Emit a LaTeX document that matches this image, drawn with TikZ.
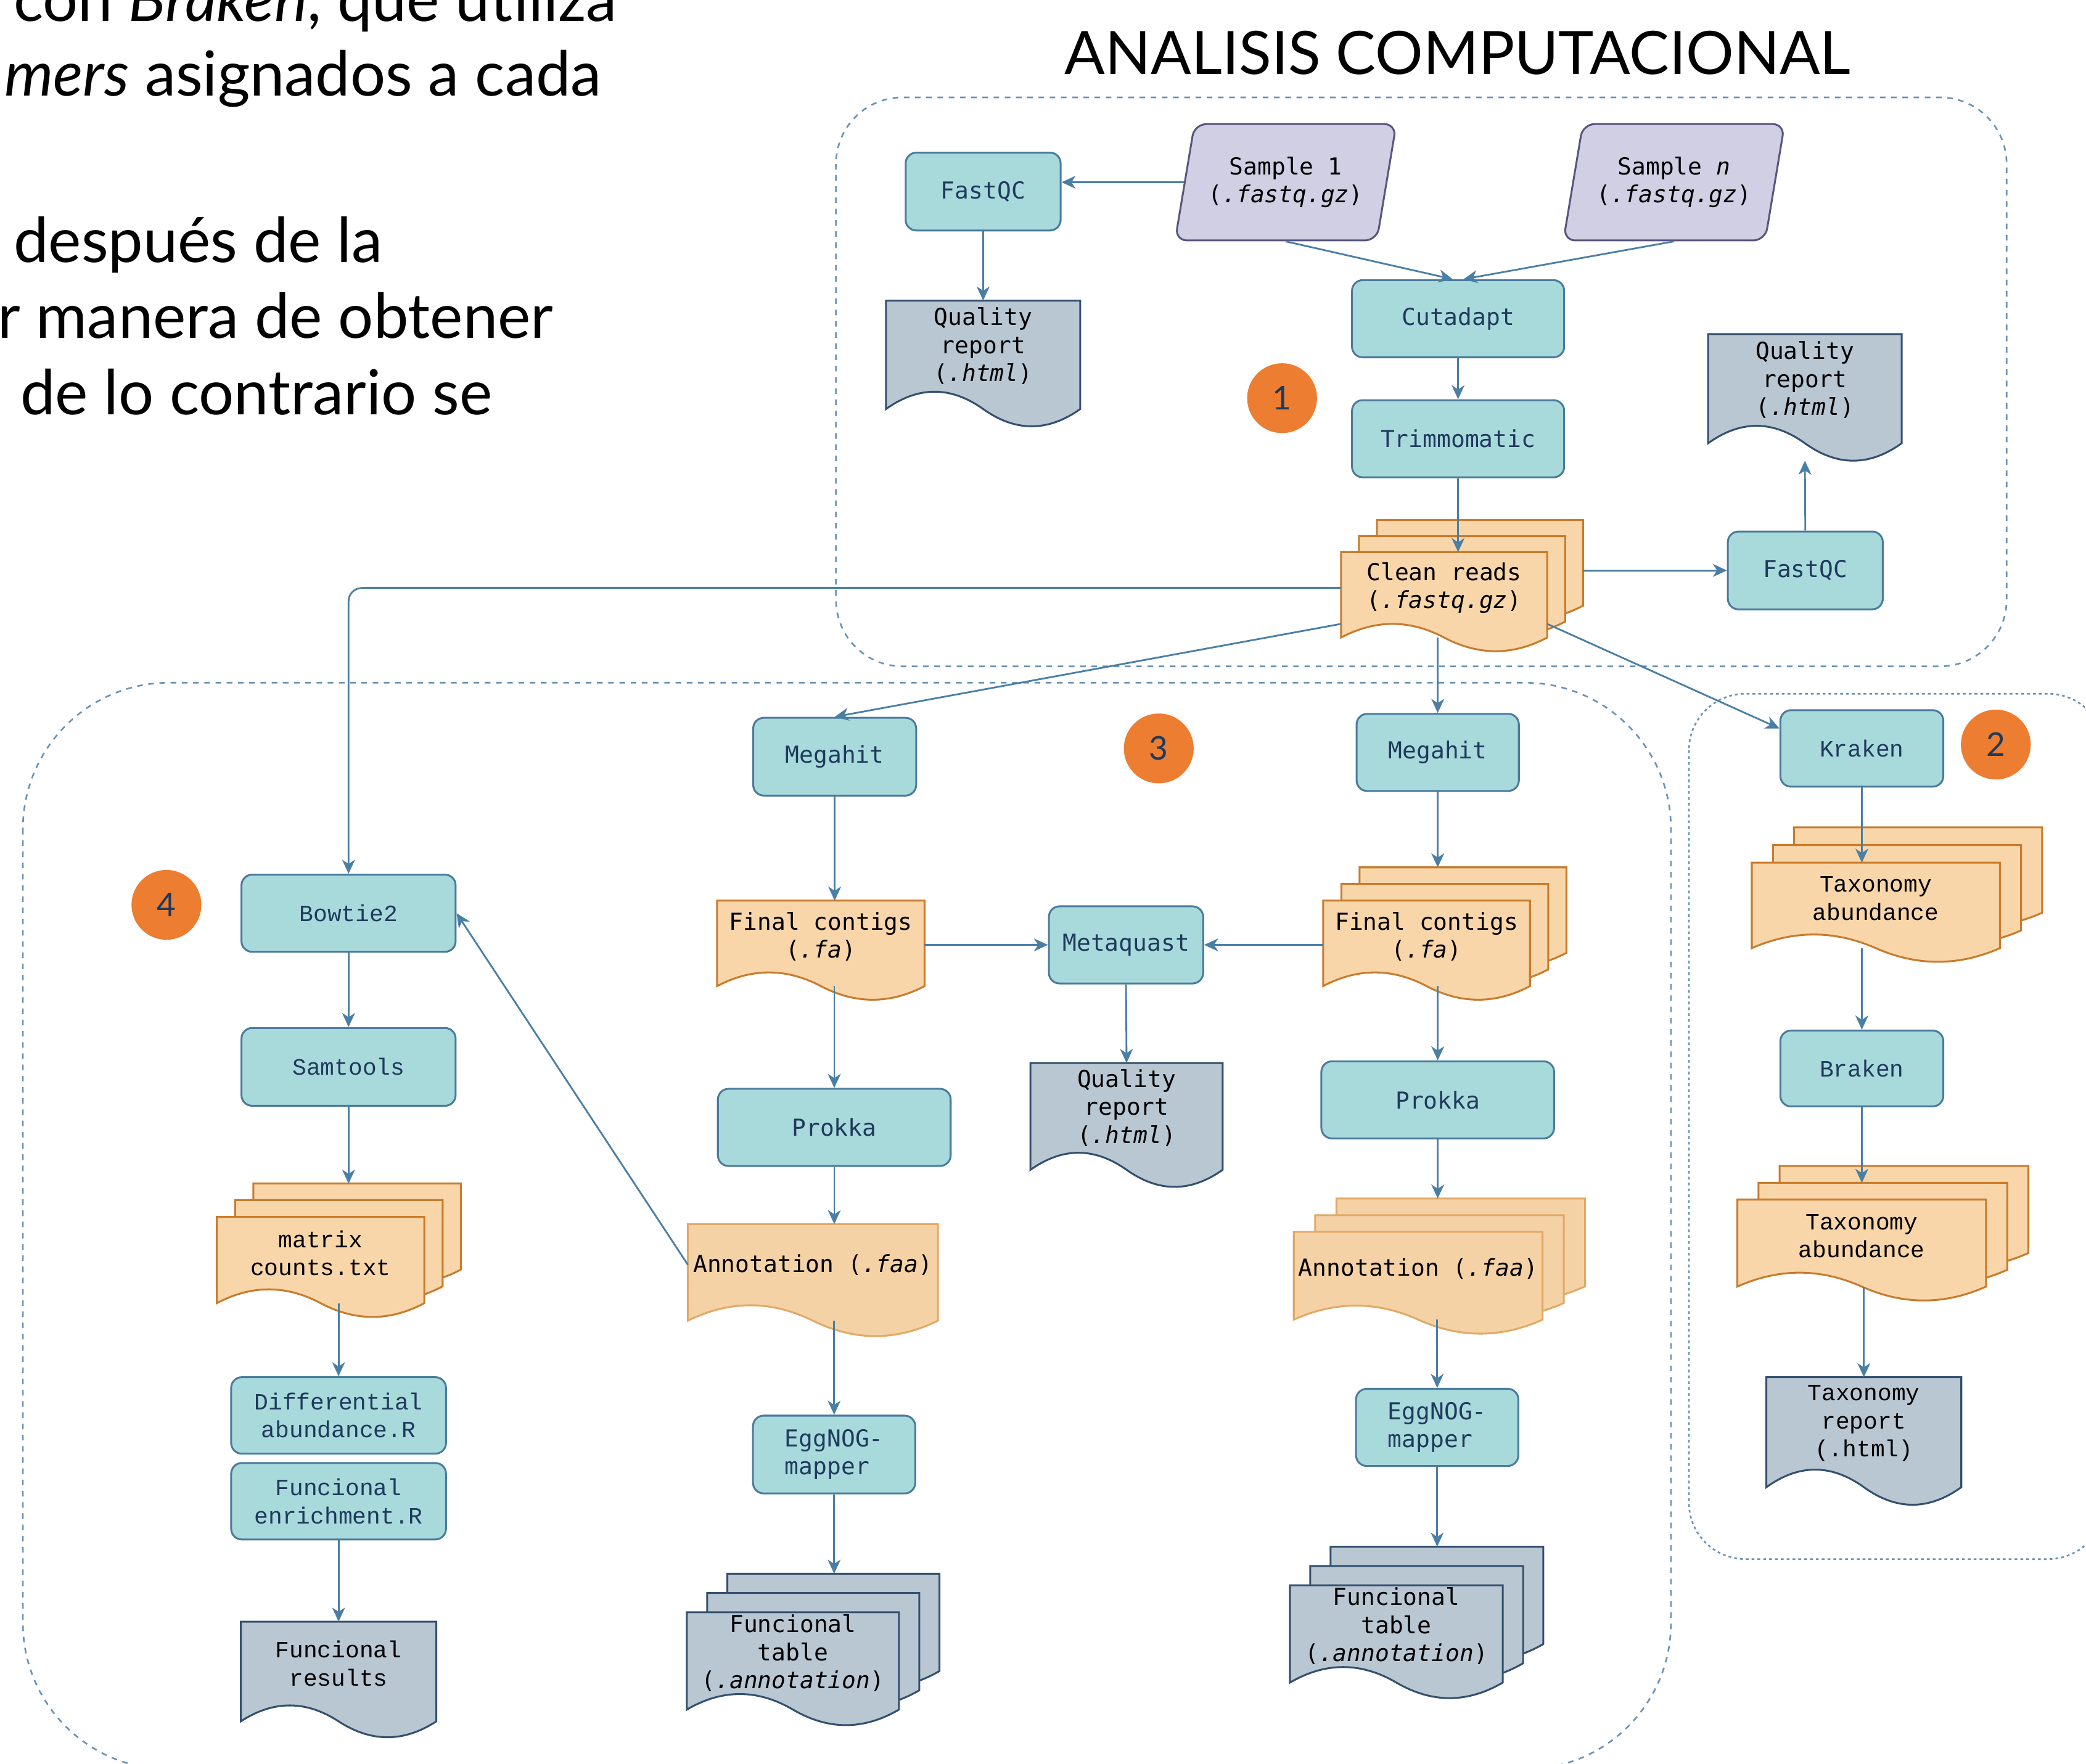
\documentclass[tikz,border=0pt]{standalone}
\usepackage{fontspec}
\setmainfont{Lato}
\newfontfamily\boxmono{DejaVu Sans Mono}
\newfontfamily\boxcour{Liberation Mono}
\usetikzlibrary{arrows.meta, shapes.geometric, calc}

\definecolor{BoxFill}{HTML}{A8DADC}
\definecolor{BoxLine}{HTML}{4A7B9D}
\definecolor{BoxText}{HTML}{1F3A5C}
\definecolor{DataFill}{HTML}{D0CFE3}
\definecolor{DataLine}{HTML}{59557F}
\definecolor{OrFill}{HTML}{F9D6AA}
\definecolor{OrLine}{HTML}{C97B2B}
\definecolor{AnFill}{HTML}{F5D2A6}
\definecolor{AnLine}{HTML}{E2A965}
\definecolor{GrFill}{HTML}{B9C7D3}
\definecolor{GrLine}{HTML}{34506E}
\definecolor{ArrowLine}{HTML}{4A7FA5}
\definecolor{GroupLine}{HTML}{6B93B4}
\definecolor{BadgeFill}{HTML}{ED7D31}
\definecolor{BadgeText}{HTML}{1E3A5A}

% document shape with a wavy bottom
\makeatletter
\newdimen\docx \newdimen\docy \newdimen\docw \newdimen\doch
\pgfdeclareshape{wavedoc}{
  \inheritsavedanchors[from=rectangle]
  \inheritanchorborder[from=rectangle]
  \inheritanchor[from=rectangle]{center}
  \inheritanchor[from=rectangle]{north}
  \inheritanchor[from=rectangle]{south}
  \inheritanchor[from=rectangle]{east}
  \inheritanchor[from=rectangle]{west}
  \inheritanchor[from=rectangle]{north east}
  \inheritanchor[from=rectangle]{north west}
  \inheritanchor[from=rectangle]{south east}
  \inheritanchor[from=rectangle]{south west}
  \anchor{wave}{%
    \northeast \pgf@xa=\pgf@x \pgf@ya=\pgf@y
    \southwest
    \advance\pgf@ya by -\pgf@y
    \advance\pgf@x by \pgf@xa \pgf@x=.5\pgf@x
    \advance\pgf@y by -.19\pgf@ya}
  \anchor{base}{%
    \northeast \pgf@xa=\pgf@x \pgf@ya=\pgf@y
    \southwest
    \advance\pgf@ya by -\pgf@y
    \advance\pgf@x by \pgf@xa \pgf@x=.5\pgf@x
    \advance\pgf@y by -.38\pgf@ya}
  \backgroundpath{%
    \southwest \docx=\pgf@x \docy=\pgf@y
    \northeast \docw=\pgf@x \doch=\pgf@y
    \advance\docw by -\docx \advance\doch by -\docy
    \pgfpathmoveto{\pgfpoint{\docx}{\docy+\doch}}%
    \pgfpathlineto{\pgfpoint{\docx+\docw}{\docy+\doch}}%
    \pgfpathlineto{\pgfpoint{\docx+\docw}{\docy-0.19*\doch}}%
    \pgfpathcurveto{\pgfpoint{\docx+0.8333*\docw}{\docy-0.4433*\doch}}%
                   {\pgfpoint{\docx+0.6667*\docw}{\docy-0.4433*\doch}}%
                   {\pgfpoint{\docx+0.5*\docw}{\docy-0.19*\doch}}%
    \pgfpathcurveto{\pgfpoint{\docx+0.3333*\docw}{\docy+0.0633*\doch}}%
                   {\pgfpoint{\docx+0.1667*\docw}{\docy+0.0633*\doch}}%
                   {\pgfpoint{\docx}{\docy-0.19*\doch}}%
    \pgfpathclose}
}
\makeatother

\begin{document}
\begin{tikzpicture}[
        x = 0.02cm, y = -0.02cm,
  MyText/.style={inner sep=0pt, anchor=base west, font=\fontsize{26.6}{32}\selectfont},
  MyGroup/.style={draw=GroupLine, line width=0.7pt, dash pattern=on 2.4pt off 2.4pt},
  MyBox/.style={draw=BoxLine, fill=BoxFill, line width=0.8pt, rounded corners=0.16cm,
                text=BoxText, align=center, inner sep=1pt,
                font=\boxmono\fontsize{10}{12}\selectfont},
  CourBox/.style={MyBox, font=\boxcour\fontsize{10}{12}\selectfont},
  MyData/.style={trapezium, trapezium left angle=73, trapezium right angle=107,
                 trapezium stretches=true, minimum width=3.35cm, minimum height=1.75cm,
                 draw=DataLine, fill=DataFill, line width=0.8pt, rounded corners=0.18cm,
                 align=center, inner sep=1pt, font=\boxmono\fontsize{10}{12}\selectfont},
  MyDoc/.style={shape=wavedoc, line width=0.8pt, outer sep=0pt, inner sep=1pt,
                align=center, font=\boxmono\fontsize{10}{12}\selectfont},
  OrDoc/.style={MyDoc, draw=OrLine, fill=OrFill},
  AnDoc/.style={MyDoc, draw=AnLine, fill=AnFill},
  GrDoc/.style={MyDoc, draw=GrLine, fill=GrFill},
  CourText/.style={font=\boxcour\fontsize{10}{12}\selectfont},
  Stack/.style n args={4}{
     preaction={draw=#3, fill=#4, line width=0.8pt, transform canvas={shift={({2*#1},{2*#2})}}},
     preaction={draw=#3, fill=#4, line width=0.8pt, transform canvas={shift={(#1,#2)}}}},
  Badge/.style={circle, fill=BadgeFill, minimum size=1.05cm, inner sep=0pt,
                text=BadgeText, font=\fontsize{14}{14}\selectfont},
  ]
\useasboundingbox (0,0) rectangle (1568,1326);
\clip (0,0) rectangle (1568,1326);

\node[MyText] (t1) at (10,16) {con \textit{Braken}, que utiliza};
\node[MyText] (t2) at (3,72) {\textit{mers} asignados a cada};
\node[MyText] (t3) at (10,197) {después de la};
\node[MyText] (t4) at (-2,254) {r manera de obtener};
\node[MyText] (t5) at (15,311.5) {de lo contrario se};
\node[MyText, font=\fontsize{25.6}{30}\selectfont] (title) at (800,56) {ANALISIS COMPUTACIONAL};

\draw[MyGroup, rounded corners=1cm] (628.4,73.2) rectangle (1508.3,500.9);
\draw[MyGroup, rounded corners=2.2cm] (17.2,513.2) rectangle (1256,1330);
\draw[MyGroup, dash pattern=on 1.2pt off 1.3pt, rounded corners=0.85cm] (1269.5,521.5) rectangle (1582,1172);

% 1
\node[MyBox, minimum width=2.33cm, minimum height=1.17cm] (fq1) at (739,144) {FastQC};
\node[MyData] (s1) at (966.4,137) {Sample 1\\(\textit{.fastq.gz})};
\node[MyData] (sn) at (1258.3,137) {Sample \textit{n}\\(\textit{.fastq.gz})};
\node[GrDoc, minimum width=2.92cm, minimum height=1.37cm] (qr1) at (739,260.2) {Quality\\report\\(\textit{.html})};
\node[MyBox, minimum width=3.19cm, minimum height=1.16cm] (cut) at (1096,239.6) {Cutadapt};
\node[MyBox, minimum width=3.19cm, minimum height=1.16cm] (trim) at (1096,329.8) {Trimmomatic};
\node[Badge] (b1) at (963.7,299.3) {1};
\node[OrDoc, Stack={0.27cm}{0.24cm}{OrLine}{OrFill}, minimum width=3.1cm, minimum height=1.08cm] (cr) at (1085.5,442) {Clean reads\\(\textit{.fastq.gz})};
\node[GrDoc, minimum width=2.91cm, minimum height=1.38cm] (qr2) at (1356.7,285.6) {Quality\\report\\(\textit{.html})};
\node[MyBox, minimum width=2.33cm, minimum height=1.17cm] (fq2) at (1357,428.8) {FastQC};

% 3
\node[MyBox, minimum width=2.45cm, minimum height=1.17cm] (mg1) at (627.4,568.8) {Megahit};
\node[MyBox, minimum width=2.44cm, minimum height=1.16cm] (mg2) at (1080.7,565.6) {Megahit};
\node[Badge] (b3) at (871,562.6) {3};
\node[OrDoc, minimum width=3.12cm, minimum height=1.08cm] (fc1) at (617,704) {Final contigs\\(\textit{.fa})};
\node[OrDoc, Stack={0.274cm}{0.25cm}{OrLine}{OrFill}, minimum width=3.11cm, minimum height=1.08cm] (fc2) at (1072.3,704) {Final contigs\\(\textit{.fa})};
\node[MyBox, minimum width=2.32cm, minimum height=1.16cm] (mq) at (846.4,710.3) {Metaquast};
\node[GrDoc, minimum width=2.89cm, minimum height=1.35cm] (qr3) at (846.8,832.8) {Quality\\report\\(\textit{.html})};
\node[MyBox, minimum width=3.5cm, minimum height=1.16cm] (pk1) at (627.1,847.5) {Prokka};
\node[MyBox, minimum width=3.5cm, minimum height=1.16cm] (pk2) at (1080.7,826.8) {Prokka};
\node[AnDoc, minimum width=3.76cm, minimum height=1.22cm] (an1) at (611,950.7) {Annotation (\textit{.faa})};
\node[AnDoc, Stack={0.32cm}{0.25cm}{AnLine}{AnFill}, minimum width=3.74cm, minimum height=1.11cm] (an2) at (1066,953.7) {Annotation (\textit{.faa})};
\node[MyBox, align=left, minimum width=2.44cm, minimum height=1.17cm] (eg1) at (627,1093.4) {EggNOG-\\mapper};
\node[MyBox, align=left, minimum width=2.44cm, minimum height=1.16cm] (eg2) at (1080.3,1073) {EggNOG-\\mapper};
\node[GrDoc, Stack={0.305cm}{0.29cm}{GrLine}{GrFill}, minimum width=3.19cm, minimum height=1.23cm] (ft1) at (596,1242.7) {Funcional\\table\\(\textit{.annotation})};
\node[GrDoc, Stack={0.305cm}{0.29cm}{GrLine}{GrFill}, minimum width=3.2cm, minimum height=1.23cm] (ft2) at (1049.6,1222.4) {Funcional\\table\\(\textit{.annotation})};

% 4
\node[Badge] (b4) at (125.1,680.2) {4};
\node[CourBox, minimum width=3.22cm, minimum height=1.16cm] (bt) at (262,686.5) {Bowtie2};
\node[CourBox, minimum width=3.22cm, minimum height=1.17cm] (st) at (262,802) {Samtools};
\node[OrDoc, CourText, Stack={0.274cm}{0.252cm}{OrLine}{OrFill}, minimum width=3.12cm, minimum height=1.09cm] (mc) at (241,942) {matrix\\counts.txt};
\node[CourBox, minimum width=3.23cm, minimum height=1.15cm] (da) at (254.5,1064) {Differential\\abundance.R};
\node[CourBox, minimum width=3.23cm, minimum height=1.15cm] (fe) at (254.5,1128.5) {Funcional\\enrichment.R};
\node[GrDoc, CourText, minimum width=2.94cm, minimum height=1.26cm] (fr) at (254.5,1250.5) {Funcional\\results};

% 2
\node[CourBox, minimum width=2.45cm, minimum height=1.15cm] (kr) at (1399.5,562.6) {Kraken};
\node[Badge] (b2) at (1500.2,559.7) {2};
\node[OrDoc, CourText, Stack={0.318cm}{0.266cm}{OrLine}{OrFill}, minimum width=3.73cm, minimum height=1.08cm] (ta1) at (1410,675.5) {Taxonomy\\abundance};
\node[CourBox, minimum width=2.45cm, minimum height=1.14cm] (br) at (1399.5,803.2) {Braken};
\node[OrDoc, CourText, Stack={0.318cm}{0.252cm}{OrLine}{OrFill}, minimum width=3.74cm, minimum height=1.1cm] (ta2) at (1399.4,929.2) {Taxonomy\\abundance};
\node[GrDoc, CourText, minimum width=2.93cm, minimum height=1.39cm] (tr) at (1401,1070) {Taxonomy\\report\\(.html)};

\begin{scope}[-{Stealth[length=6pt, width=5.5pt, inset=1.8pt]}, color=ArrowLine, line width=0.75pt]
  \draw (s1.left side) -- (s1.left side -| fq1.east);
  \draw (fq1.south) -- (qr1.north);
  \draw (s1.south) -- ([xshift=-0.08cm]cut.north);
  \draw (sn.south) -- ([xshift=0.08cm]cut.north);
  \draw (cut.south) -- (trim.north);
  \draw (trim.south) -- (trim.south |- cr.north);
  \draw ($(cr.east |- fq2.west)+(27,0)$) -- (fq2.west);
  \draw (fq2.north) -- (qr2.base);
  \draw[rounded corners=0.2cm] (cr.west) -| (bt.north);
  \draw (cr.south west) -- (mg1.north);
  \draw (cr.wave -| mg2.north) -- (mg2.north);
  \draw (cr.south east) -- ([yshift=0.3cm]kr.west);

  \draw (mg1.south) -- (mg1.south |- fc1.north);
  \draw (mq.west -| fc1.east) -- (mq.west);
  \draw (mq.east -| fc2.west) -- (mq.east);
  \draw (mq.south) -- (qr3.north);
  \draw (fc1.wave -| pk1.north) -- (pk1.north);
  \draw (pk1.south) -- (pk1.south |- an1.north);
  \draw (an1.wave -| eg1.north) -- (eg1.north);
  \draw (eg1.south) -- ([yshift=0.58cm]ft1.north -| eg1.south);
  \draw (mg2.south) -- ([yshift=0.5cm]fc2.north -| mg2.south);
  \draw (fc2.wave -| pk2.north) -- (pk2.north);
  \draw (pk2.south) -- ([yshift=0.5cm]an2.north -| pk2.south);
  \draw (an2.wave -| eg2.north) -- (eg2.north);
  \draw (eg2.south) -- ([yshift=0.58cm]ft2.north -| eg2.south);

  \draw (an1.west) -- (bt.east);
  \draw (bt.south) -- (st.north);
  \draw (st.south) -- ([yshift=0.5cm]mc.north -| st.south);
  \draw (mc.wave -| da.north) -- (da.north);
  \draw (fe.south) -- (fr.north);

  \draw (kr.south) -- (kr.south |- ta1.north);
  \draw (ta1.wave -| br.north) -- (br.north);
  \draw (br.south) -- ([yshift=0.25cm]ta2.north -| br.south);
  \draw (ta2.wave -| tr.north) -- (tr.north);
\end{scope}
\end{tikzpicture}
\end{document}
